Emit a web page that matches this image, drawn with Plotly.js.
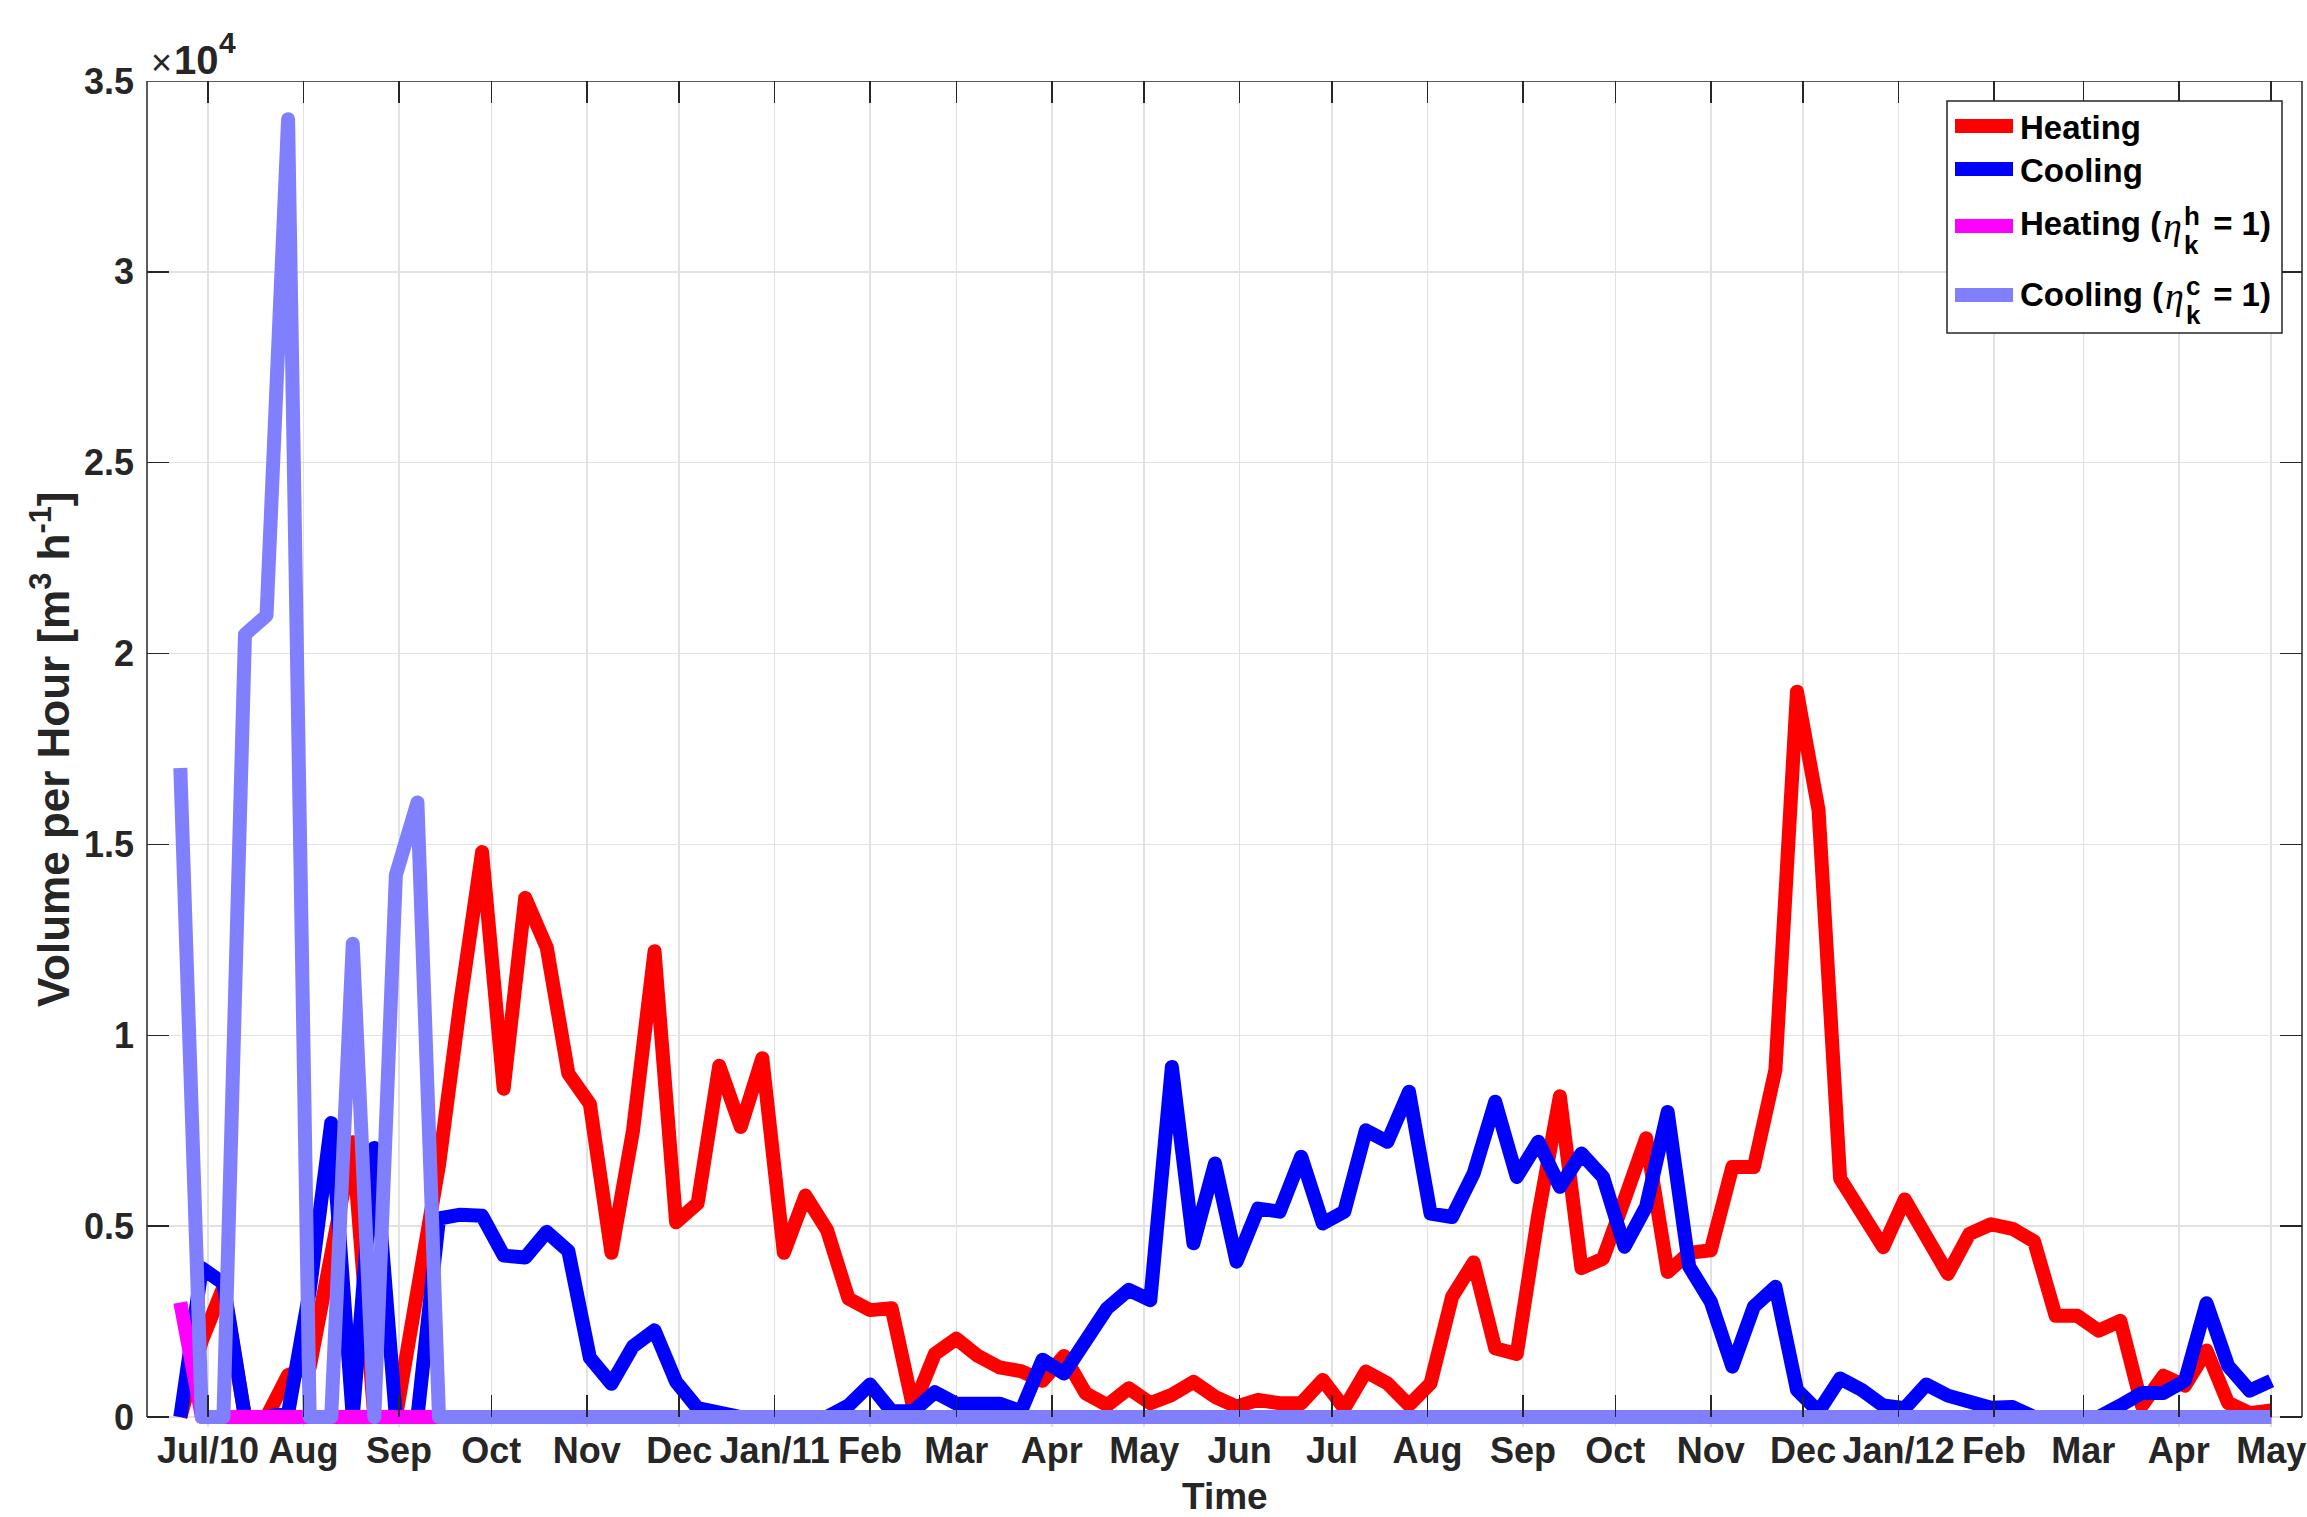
<!DOCTYPE html>
<html>
<head>
<meta charset="utf-8">
<script src="https://cdn.plot.ly/plotly-3.0.1.min.js"></script>
<style>
html,body{margin:0;padding:0;background:#fff;}
#chart{width:2307px;height:1517px;}
.js-line{stroke-linejoin:round;}
</style>
</head>
<body>
<div id="chart"></div>
<script>
// ---------------- DATA ----------------
const dates = [
 '2010-06-22','2010-06-29','2010-07-06','2010-07-13','2010-07-20','2010-07-27','2010-08-03','2010-08-10','2010-08-17','2010-08-24',
 '2010-08-31','2010-09-07','2010-09-14','2010-09-21','2010-09-28','2010-10-05','2010-10-12','2010-10-19','2010-10-26','2010-11-02',
 '2010-11-09','2010-11-16','2010-11-23','2010-11-30','2010-12-07','2010-12-14','2010-12-21','2010-12-28','2011-01-04','2011-01-11',
 '2011-01-18','2011-01-25','2011-02-01','2011-02-08','2011-02-15','2011-02-22','2011-03-01','2011-03-08','2011-03-15','2011-03-22',
 '2011-03-29','2011-04-05','2011-04-12','2011-04-19','2011-04-26','2011-05-03','2011-05-10','2011-05-17','2011-05-24','2011-05-31',
 '2011-06-07','2011-06-14','2011-06-21','2011-06-28','2011-07-05','2011-07-12','2011-07-19','2011-07-26','2011-08-02','2011-08-09',
 '2011-08-16','2011-08-23','2011-08-30','2011-09-06','2011-09-13','2011-09-20','2011-09-27','2011-10-04','2011-10-11','2011-10-18',
 '2011-10-25','2011-11-01','2011-11-08','2011-11-15','2011-11-22','2011-11-29','2011-12-06','2011-12-13','2011-12-20','2011-12-27',
 '2012-01-03','2012-01-10','2012-01-17','2012-01-24','2012-01-31','2012-02-07','2012-02-14','2012-02-21','2012-02-28','2012-03-06',
 '2012-03-13','2012-03-20','2012-03-27','2012-04-03','2012-04-10','2012-04-17','2012-04-24','2012-05-01'
];

const heating = [
 0, 2000, 3400, 0, 0, 1100, 1300, 4300, 7200, 0,
 0, 3300, 6600, 10900, 14800, 8600, 13600, 12300, 9000, 8200,
 4300, 7500, 12200, 5100, 5600, 9200, 7600, 9400, 4300, 5800,
 4900, 3100, 2800, 2850, 250, 1650, 2050, 1600, 1300, 1200,
 950, 1600, 620, 310, 750, 360, 580, 920, 530, 270,
 450, 360, 360, 970, 230, 1190, 880, 310, 880, 3150,
 4050, 1800, 1650, 5300, 8400, 3900, 4150, 5700, 7300, 3800,
 4300, 4370, 6550, 6550, 9100, 19000, 15900, 6250, 5350, 4450,
 5700, 4700, 3750, 4800, 5050, 4930, 4600, 2650, 2650, 2260,
 2520, 300, 1080, 820, 1740, 370, 100, 170
];

const cooling = [
 0, 3900, 3500, 0, 0, 100, 3300, 7700, 0, 7050,
 0, 0, 5200, 5300, 5270, 4230, 4180, 4850, 4350, 1550,
 870, 1850, 2270, 920, 230, 90, 0, 0, 0, 0,
 0, 300, 850, 150, 150, 650, 350, 350, 350, 150,
 1500, 1140, 2000, 2850, 3330, 3060, 9170, 4550, 6640, 4070,
 5460, 5380, 6820, 5070, 5380, 7510, 7210, 8520, 5330, 5240,
 6380, 8260, 6290, 7210, 6030, 6900, 6290, 4460, 5510, 7990,
 3940, 3020, 1320, 2890, 3410, 710, 140, 1010, 710, 300,
 230, 850, 560, 370, 240, 260, 0, 0, 0, 0,
 300, 630, 630, 950, 2980, 1340, 690, 950
];

const heatingEta = [
 3000, 0, 0, 0, 0, 0, 0, 0, 0, 0,
 0, 0, 0, 0, 0, 0, 0, 0, 0, 0,
 0, 0, 0, 0, 0, 0, 0, 0, 0, 0,
 0, 0, 0, 0, 0, 0, 0, 0, 0, 0,
 0, 0, 0, 0, 0, 0, 0, 0, 0, 0,
 0, 0, 0, 0, 0, 0, 0, 0, 0, 0,
 0, 0, 0, 0, 0, 0, 0, 0, 0, 0,
 0, 0, 0, 0, 0, 0, 0, 0, 0, 0,
 0, 0, 0, 0, 0, 0, 0, 0, 0, 0,
 0, 0, 0, 0, 0, 0, 0, 0
];

const coolingEta = [
 17000, 0, 0, 20500, 21000, 34000, 0, 0, 12400, 0,
 14200, 16100, 0, 0, 0, 0, 0, 0, 0, 0,
 0, 0, 0, 0, 0, 0, 0, 0, 0, 0,
 0, 0, 0, 0, 0, 0, 0, 0, 0, 0,
 0, 0, 0, 0, 0, 0, 0, 0, 0, 0,
 0, 0, 0, 0, 0, 0, 0, 0, 0, 0,
 0, 0, 0, 0, 0, 0, 0, 0, 0, 0,
 0, 0, 0, 0, 0, 0, 0, 0, 0, 0,
 0, 0, 0, 0, 0, 0, 0, 0, 0, 0,
 0, 0, 0, 0, 0, 0, 0, 0
];

const monthTicks = [
 '2010-07-01','2010-08-01','2010-09-01','2010-10-01','2010-11-01','2010-12-01',
 '2011-01-01','2011-02-01','2011-03-01','2011-04-01','2011-05-01','2011-06-01',
 '2011-07-01','2011-08-01','2011-09-01','2011-10-01','2011-11-01','2011-12-01',
 '2012-01-01','2012-02-01','2012-03-01','2012-04-01','2012-05-01'
];
const monthLabels = [
 'Jul/10','Aug','Sep','Oct','Nov','Dec',
 'Jan/11','Feb','Mar','Apr','May','Jun',
 'Jul','Aug','Sep','Oct','Nov','Dec',
 'Jan/12','Feb','Mar','Apr','May'
];
const yTicks = [0, 5000, 10000, 15000, 20000, 25000, 30000, 35000];
const yTickLabels = ['0', '0.5', '1', '1.5', '2', '2.5', '3', '3.5'];
const seriesNames = ['Heating', 'Cooling', 'Heating', 'Cooling'];
const etaSup = ['', '', 'h', 'c'];
const etaSub = ['', '', 'k', 'k'];
const seriesColors = ['#ff0000', '#0000ff', '#ff00ff', '#8080ff'];

// ---------------- LAYOUT HELPERS ----------------
const W = 2307, H = 1517;
const PL = 147, PR = 2302, PT = 81, PB = 1427;
const Y0PX = 1417;
const INK = '#262626';
const FONT = "'Liberation Sans', Arial, Helvetica, sans-serif";
function pxX(p) { return (p - PL) / (PR - PL); }
function pxY(p) { return (PB - p) / (PB - PT); }
const ctx = document.createElement('canvas').getContext('2d');
function tw(text, font) { ctx.font = font; return ctx.measureText(text).width; }

const LW = 14;
const seriesY = [heating, cooling, heatingEta, coolingEta];
const traces = seriesY.map((ys, k) => ({
  type: 'scatter', mode: 'lines', x: dates, y: ys, name: seriesNames[k],
  line: { color: seriesColors[k], width: LW }, showlegend: false, hoverinfo: 'skip',
  xaxis: 'x', yaxis: 'y'
}));
traces.push({ type: 'scatter', mode: 'lines', x: [dates[0], dates[dates.length - 1]], y: [null, null],
  xaxis: 'x2', yaxis: 'y', showlegend: false, hoverinfo: 'skip' });

const xr = ['2010-06-11 04:20', '2012-05-11 00:00'];
const tickFont = { family: FONT, size: 36, color: INK, weight: 'bold' };

const shapes = [
  { type: 'line', xref: 'paper', yref: 'y', x0: 0, x1: 0, y0: 0, y1: 35000, line: { color: INK, width: 1.5 }, layer: 'between' },
  { type: 'line', xref: 'paper', yref: 'y', x0: 1, x1: 1, y0: 0, y1: 35000, line: { color: INK, width: 1.5 }, layer: 'between' },
  { type: 'line', xref: 'paper', yref: 'y', x0: 0, x1: 1, y0: 0, y1: 0, line: { color: INK, width: 1.5 }, layer: 'between' },
  { type: 'line', xref: 'paper', yref: 'y', x0: 0, x1: 1, y0: 35000, y1: 35000, line: { color: INK, width: 1.5 }, layer: 'between' },
  // legend box
  { type: 'rect', xref: 'paper', yref: 'paper', x0: pxX(1947), x1: pxX(2282), y0: pxY(333), y1: pxY(101),
    line: { color: INK, width: 1.5 }, fillcolor: '#ffffff', layer: 'above' }
];

const annotations = [];
// x10^4 exponent label
const wTimes = tw('×', '36px "Liberation Sans"');
const wTen = tw('10', 'bold 40px "Liberation Sans"');
annotations.push({ xref: 'paper', yref: 'paper', x: pxX(149), y: pxY(62), xanchor: 'left', yanchor: 'middle',
  text: '×', showarrow: false, font: { family: FONT, size: 36, color: INK } });
annotations.push({ xref: 'paper', yref: 'paper', x: pxX(151 + wTimes), y: pxY(60), xanchor: 'left', yanchor: 'middle',
  text: '10', showarrow: false, font: { family: FONT, size: 40, color: INK, weight: 'bold' } });
annotations.push({ xref: 'paper', yref: 'paper', x: pxX(151 + wTimes + wTen), y: pxY(42), xanchor: 'left', yanchor: 'middle',
  text: '4', showarrow: false, font: { family: FONT, size: 30, color: INK, weight: 'bold' } });
// axis titles
annotations.push({ xref: 'paper', yref: 'paper', x: pxX((PL + PR) / 2), y: pxY(1474), xanchor: 'center', yanchor: 'top',
  text: '<b>Time</b>', showarrow: false, font: { family: FONT, size: 37, color: INK } });
annotations.push({ xref: 'paper', yref: 'paper', x: pxX(50), y: pxY((PT + Y0PX) / 2), xanchor: 'center', yanchor: 'middle',
  textangle: -90, text: '<b>Volume per Hour [m<sup>3</sup> h<sup>-1</sup>]</b>', showarrow: false,
  font: { family: FONT, size: 44, color: INK } });

// legend entries
const rowY = [128, 170, 224, 294];
const sampleY = [126, 169, 226, 295];
const TX = 2020, LS = 33;
const boldFont = 'bold ' + LS + 'px "Liberation Sans"';
for (let k = 0; k < 4; k++) {
  shapes.push({ type: 'line', xref: 'paper', yref: 'paper', x0: pxX(1955), x1: pxX(2013), y0: pxY(sampleY[k]), y1: pxY(sampleY[k]),
    line: { color: seriesColors[k], width: LW }, layer: 'above' });
  if (!etaSup[k]) {
    annotations.push({ xref: 'paper', yref: 'paper', x: pxX(TX - 2), y: pxY(rowY[k]), xanchor: 'left', yanchor: 'middle',
      text: '<b>' + seriesNames[k] + '</b>', showarrow: false, font: { family: FONT, size: LS, color: '#000' } });
  } else {
    const p1 = seriesNames[k] + ' (';
    const w1 = tw(p1, boldFont);
    const wEta = tw('η', 'italic 38px "Liberation Serif"');
    const wS = Math.max(tw(etaSup[k], 'bold 26px "Liberation Sans"'), tw(etaSub[k], 'bold 26px "Liberation Sans"'));
    annotations.push({ xref: 'paper', yref: 'paper', x: pxX(TX - 2), y: pxY(rowY[k]), xanchor: 'left', yanchor: 'middle',
      text: '<b>' + p1 + '</b>', showarrow: false, font: { family: FONT, size: LS, color: '#000' } });
    annotations.push({ xref: 'paper', yref: 'paper', x: pxX(TX + w1), y: pxY(rowY[k] + 2), xanchor: 'left', yanchor: 'middle',
      text: 'η', showarrow: false, font: { family: "'Liberation Serif', serif", size: 38, color: '#000', style: 'italic' } });
    annotations.push({ xref: 'paper', yref: 'paper', x: pxX(TX + w1 + wEta + 2), y: pxY(rowY[k] - 8), xanchor: 'left', yanchor: 'middle',
      text: '<b>' + etaSup[k] + '</b>', showarrow: false, font: { family: FONT, size: 26, color: '#000' } });
    annotations.push({ xref: 'paper', yref: 'paper', x: pxX(TX + w1 + wEta + 2), y: pxY(rowY[k] + 21), xanchor: 'left', yanchor: 'middle',
      text: '<b>' + etaSub[k] + '</b>', showarrow: false, font: { family: FONT, size: 26, color: '#000' } });
    annotations.push({ xref: 'paper', yref: 'paper', x: pxX(TX + w1 + wEta + wS + 6), y: pxY(rowY[k]), xanchor: 'left', yanchor: 'middle',
      text: '<b>\u00a0= 1)</b>', showarrow: false, font: { family: FONT, size: LS, color: '#000' } });
  }
}

const layout = {
  width: W, height: H,
  margin: { l: PL, r: W - PR, t: PT, b: H - PB, pad: 0 },
  paper_bgcolor: '#ffffff', plot_bgcolor: '#ffffff',
  showlegend: false,
  xaxis: {
    type: 'date', range: xr, domain: [0, 1], anchor: 'free', position: pxY(Y0PX),
    tickmode: 'array', tickvals: monthTicks, ticktext: monthLabels, tickangle: 0,
    ticks: 'inside', ticklen: 22, tickwidth: 1.5, tickcolor: INK,
    showline: false, zeroline: false, showgrid: true, gridcolor: '#e2e2e2', gridwidth: 1.5,
    tickfont: tickFont, ticklabelstandoff: 9
  },
  xaxis2: {
    type: 'date', range: xr, overlaying: 'x', side: 'top', anchor: 'y',
    tickmode: 'array', tickvals: monthTicks, ticks: 'inside', ticklen: 22, tickwidth: 1.5, tickcolor: INK,
    showticklabels: false, showgrid: false, zeroline: false, showline: false
  },
  yaxis: {
    range: [-262, 35000], anchor: 'x', domain: [0, 1],
    tickmode: 'array', tickvals: yTicks, ticktext: yTickLabels,
    ticks: 'inside', ticklen: 22, tickwidth: 1.5, tickcolor: INK, mirror: 'ticks',
    showline: false, zeroline: false, showgrid: true, gridcolor: '#e2e2e2', gridwidth: 1.5,
    tickfont: tickFont, ticklabelstandoff: 12
  },
  shapes: shapes,
  annotations: annotations
};

Plotly.newPlot('chart', traces, layout, { displayModeBar: false, staticPlot: true });
</script>
</body>
</html>
